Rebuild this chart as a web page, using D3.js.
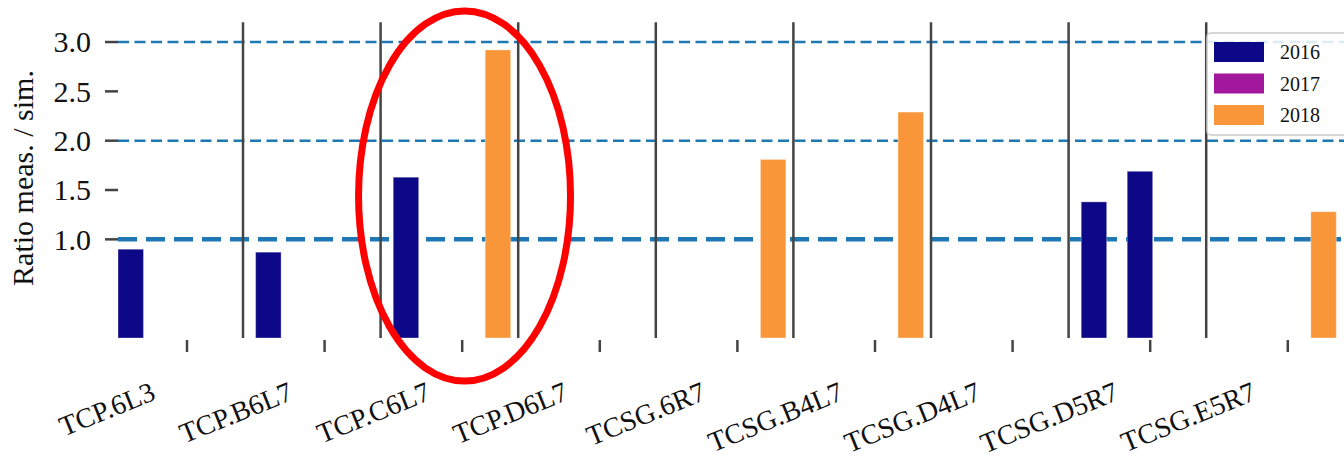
<!DOCTYPE html>
<html>
<head>
<meta charset="utf-8">
<script src="https://cdn.jsdelivr.net/npm/d3@7"></script>
<style>
  body { margin: 0; background: #fff; }
  svg { display: block; font-family: "Liberation Serif", "DejaVu Serif", serif; }
</style>
</head>
<body>
<svg id="chart"></svg>
<script>
const groups = ["TCP.6L3", "TCP.B6L7", "TCP.C6L7", "TCP.D6L7", "TCSG.6R7",
                "TCSG.B4L7", "TCSG.D4L7", "TCSG.D5R7", "TCSG.E5R7"];
const years = ["2016", "2017", "2018"];
const yearColors = ["#0d0887", "#a2179b", "#f9963a"];

// one entry per bar
const barGroups = ["TCP.6L3", "TCP.B6L7", "TCP.C6L7", "TCP.C6L7", "TCSG.6R7",
                   "TCSG.B4L7", "TCSG.D5R7", "TCSG.D5R7", "TCSG.E5R7"];
const barSlots  = [0, 0, 0, 2, 2, 2, 0, 1, 2];
const barYears  = ["2016", "2016", "2016", "2018", "2018", "2018", "2016", "2016", "2018"];
const barValues = [0.90, 0.87, 1.63, 2.92, 1.81, 2.29, 1.38, 1.69, 1.28];

const yTicks = [1.0, 1.5, 2.0, 2.5, 3.0];
const refLines = [1.0, 2.0, 3.0];

const W = 1344, H = 460;
const axisLeft = 118, plotBottom = 338;

let svg = d3.select("#chart").attr("width", W).attr("height", H);

let x = d3.scaleBand().domain(groups).range([105.4, 1343.8]);
let slot = d3.scaleBand().domain([0, 1, 2]).range([0, x.bandwidth()])
  .paddingInner(0.446).paddingOuter(0.2186).align(0.627);
let y = d3.scaleLinear().domain([0, 3.2]).range([plotBottom, 22.3]);
let color = d3.scaleOrdinal().domain(years).range(yearColors);

// reference lines
svg.append("g").selectAll("line")
  .data(refLines)
  .join("line")
  .attr("x1", axisLeft)
  .attr("x2", W)
  .attr("y1", d => y(d))
  .attr("y2", d => y(d))
  .attr("stroke", "#1f77b4")
  .attr("stroke-width", d => d === 1 ? 4.5 : 2.5)
  .attr("stroke-dasharray", d => d === 1 ? "19,9" : "11,5.5");

// separators between groups
svg.append("g").selectAll("line")
  .data(groups.slice(0, -1))
  .join("line")
  .attr("x1", d => x(d) + x.bandwidth())
  .attr("x2", d => x(d) + x.bandwidth())
  .attr("y1", y(3.2))
  .attr("y2", plotBottom)
  .attr("stroke", "#444")
  .attr("stroke-width", 2.5);

// bars
let bars = barValues.map((v, i) => ({ group: barGroups[i], slot: barSlots[i], year: barYears[i], value: v }));
svg.append("g").selectAll("rect")
  .data(bars)
  .join("rect")
  .attr("x", d => x(d.group) + slot(d.slot))
  .attr("width", slot.bandwidth())
  .attr("y", d => y(d.value))
  .attr("height", d => y(0) - y(d.value))
  .attr("fill", d => color(d.year))
  .attr("stroke", "rgba(255,255,255,0.35)")
  .attr("stroke-width", 1);

// y axis ticks + labels
let yAxis = svg.append("g");
yAxis.selectAll("line")
  .data(yTicks)
  .join("line")
  .attr("x1", 105).attr("x2", axisLeft)
  .attr("y1", d => y(d)).attr("y2", d => y(d))
  .attr("stroke", "#444").attr("stroke-width", 2.5);
yAxis.selectAll("text")
  .data(yTicks)
  .join("text")
  .attr("x", 91)
  .attr("y", d => y(d))
  .attr("dy", "0.34em")
  .attr("text-anchor", "end")
  .attr("font-size", 30)
  .attr("fill", "#111")
  .text(d => d.toFixed(1));

svg.append("text")
  .attr("transform", "translate(33,178) rotate(-90)")
  .attr("text-anchor", "middle")
  .attr("font-size", 30)
  .attr("fill", "#111")
  .text("Ratio meas. / sim.");

// x ticks + rotated labels
let tickX = d => x(d) + x.bandwidth() * 0.593;
let xAxis = svg.append("g");
xAxis.selectAll("line")
  .data(groups)
  .join("line")
  .attr("x1", tickX).attr("x2", tickX)
  .attr("y1", 340).attr("y2", 352)
  .attr("stroke", "#444").attr("stroke-width", 2.5);
xAxis.selectAll("text")
  .data(groups)
  .join("text")
  .attr("transform", d => `translate(${tickX(d) - 30},399) rotate(-22)`)
  .attr("text-anchor", "end")
  .attr("font-size", 28)
  .attr("fill", "#111")
  .text(d => d);

// legend
let legend = svg.append("g").attr("transform", "translate(1207,33)");
legend.append("rect")
  .attr("width", 150).attr("height", 102).attr("rx", 4)
  .attr("fill", "rgba(255,255,255,0.85)")
  .attr("stroke", "#ccc").attr("stroke-width", 1.5);
years.forEach((yr, i) => {
  legend.append("rect")
    .attr("x", 7).attr("y", 9 + i * 31.5)
    .attr("width", 50).attr("height", 20)
    .attr("fill", color(yr));
  legend.append("text")
    .attr("x", 73).attr("y", 19 + i * 31.5)
    .attr("dy", "0.35em")
    .attr("font-size", 20)
    .attr("fill", "#111")
    .text(yr);
});

// highlight ellipse around TCP.C6L7
svg.append("ellipse")
  .attr("cx", x("TCP.C6L7") + x.bandwidth() * 0.61)
  .attr("cy", 196)
  .attr("rx", 106)
  .attr("ry", 185)
  .attr("fill", "none")
  .attr("stroke", "#ff0000")
  .attr("stroke-width", 7);
</script>
</body>
</html>
